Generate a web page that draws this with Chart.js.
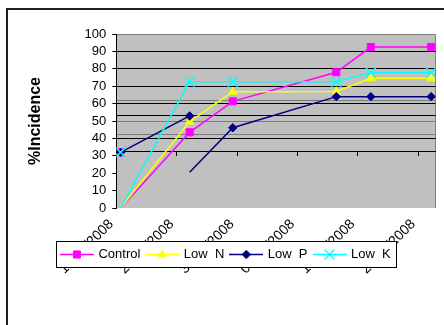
<!DOCTYPE html>
<html>
<head>
<meta charset="utf-8">
<script src="https://cdn.jsdelivr.net/npm/chart.js@4.4.1/dist/chart.umd.min.js"></script>
<style>
  html, body { margin: 0; padding: 0; background: #fff; overflow: hidden; }
  #wrap { position: relative; width: 444px; height: 325px; }
  canvas { display: block; }
  #frame { position: absolute; left: 6px; top: 8px; width: 470px; height: 360px;
           border: 2px solid #1e1e1e; box-sizing: border-box; pointer-events: none; }
</style>
</head>
<body>
<div id="wrap">
  <canvas id="chart" width="444" height="325"></canvas>
  <div id="frame"></div>
</div>
<script>
// Sampling dates, as day offsets from 16/07/2008
const tickDays = [0, 7, 14, 21, 28, 35];
const tickLabels = ['16/07/2008', '23/07/2008', '30/07/2008', '06/08/2008', '13/08/2008', '20/08/2008'];

const seriesNames = ['Control', 'Low  N', 'Low  P', 'Low  K'];
const seriesColors = ['#ff00ff', '#ffff00', '#000080', '#00ffff'];

// First reading of each series (separate leading piece)
const leadDays = [0, 8];
const controlLead = [32, null];
const lowNLead = [32, null];
const lowPLead = [32, 52.9];
const lowKLead = [32, null];

// Main runs of each series
const controlDays = [0, 8, 13, 25, 29, 36];
const controlValues = [0, 43.5, 61.3, 78, 92.5, 92.5];
const lowNDays = [0, 8, 13, 25, 29, 36];
const lowNValues = [0, 49.6, 66.8, 67, 74.5, 74.5];
const lowPDays = [8, 13, 25, 29, 36];
const lowPValues = [20.5, 46.1, 64, 64, 64];
const lowKDays = [0, 8, 13, 25, 29, 36];
const lowKValues = [0, 72.6, 72.6, 72.6, 77.8, 77.8];

// Horizontal rules across the plot
const axisCrossing = 32.2;
const blackGridValues = [90, 80, 70, 60, 53, 40];
const grayGridValues = [61.5, 50, 42.5];

const markers = [
  { style: 'rect', radius: 5, border: 1 },
  { style: 'triangle', radius: 4.7, border: 1 },
  { style: 'rectRot', radius: 4.2, border: 1 },
  { style: 'crossRot', radius: 7, border: 1.5 }
];

function buildSeries(idx, lead, days, values) {
  const m = markers[idx];
  const data = [];
  const radii = [];
  leadDays.forEach((d, i) => {
    data.push({ x: d, y: lead[i] });
    radii.push(lead[i] == null ? 0 : m.radius);
  });
  data.push({ x: days[0], y: null });
  radii.push(0);
  days.forEach((d, i) => {
    data.push({ x: d, y: values[i] });
    radii.push(i === 0 ? 0 : m.radius);
  });
  return {
    label: seriesNames[idx],
    data,
    borderColor: seriesColors[idx],
    backgroundColor: seriesColors[idx],
    borderWidth: 1.5,
    pointStyle: m.style,
    pointRadius: radii,
    pointBorderWidth: m.border,
    pointBorderColor: seriesColors[idx],
    pointBackgroundColor: seriesColors[idx],
    spanGaps: false,
    tension: 0,
    order: seriesNames.length - 1 - idx
  };
}

function legendSample(idx) {
  const m = markers[idx];
  const c = document.createElement('canvas');
  c.width = 34; c.height = 13;
  const g = c.getContext('2d');
  g.strokeStyle = seriesColors[idx];
  g.fillStyle = seriesColors[idx];
  g.lineWidth = 1.5;
  g.beginPath(); g.moveTo(0, 6.5); g.lineTo(34, 6.5); g.stroke();
  g.lineWidth = m.border;
  Chart.helpers.drawPoint(g, { pointStyle: m.style, radius: m.radius, borderWidth: m.border, rotation: 0 }, 17, 6.5);
  return c;
}

const plotBackground = {
  id: 'plotBackground',
  beforeDraw(chart) {
    const { ctx, chartArea: a } = chart;
    ctx.save();
    ctx.fillStyle = '#c0c0c0';
    ctx.fillRect(a.left, a.top, a.right - a.left, a.bottom - a.top);
    ctx.strokeStyle = '#808080';
    ctx.lineWidth = 1;
    const t = Math.round(a.top) + 0.5, r = Math.round(a.right) - 0.5;
    ctx.beginPath();
    ctx.moveTo(a.left, t); ctx.lineTo(r, t); ctx.lineTo(r, a.bottom);
    ctx.stroke();
    ctx.restore();
  }
};

// Date labels run on under the legend box, so let their clip area reach further down
const labelRoom = {
  id: 'labelRoom',
  afterLayout(chart) {
    const x = chart.scales.x;
    x.bottom = x.top + 80;
  }
};

const legendBox = {
  id: 'legendBox',
  afterDraw(chart) {
    const lg = chart.legend;
    const hb = lg.legendHitBoxes;
    if (!hb || !hb.length) return;
    const last = hb[hb.length - 1];
    const l = Math.round(hb[0].left - 6) + 0.5;
    const r = Math.round(last.left + last.width + 6) - 0.5;
    const t = Math.floor(hb[0].top - 6.5) + 0.5;
    const b = Math.floor(hb[0].top + hb[0].height + 6.5) + 0.5;
    const ctx = chart.ctx;
    ctx.save();
    ctx.fillStyle = '#ffffff';
    ctx.fillRect(l, t, r - l, b - t);
    ctx.strokeStyle = '#000000';
    ctx.lineWidth = 1;
    ctx.strokeRect(l, t, r - l, b - t);
    ctx.restore();
    lg.draw();
  }
};

Chart.defaults.font.family = "'Liberation Sans', Arial, sans-serif";
Chart.defaults.color = '#000';

const dayTicks = s => { s.ticks = tickDays.map(d => ({ value: d - 0.5 })); };
const samples = seriesNames.map((_, i) => legendSample(i));

new Chart(document.getElementById('chart'), {
  type: 'line',
  data: {
    datasets: [
      buildSeries(0, controlLead, controlDays, controlValues),
      buildSeries(1, lowNLead, lowNDays, lowNValues),
      buildSeries(2, lowPLead, lowPDays, lowPValues),
      buildSeries(3, lowKLead, lowKDays, lowKValues)
    ]
  },
  options: {
    responsive: false,
    devicePixelRatio: 1,
    animation: false,
    events: [],
    layout: { padding: { left: 16, right: 7.3, top: 34, bottom: 54 } },
    plugins: {
      tooltip: { enabled: false },
      legend: {
        position: 'bottom',
        labels: {
          usePointStyle: true,
          pointStyleWidth: 30,
          padding: 7,
          font: { size: 13 },
          color: '#000',
          sort: (a, b) => a.datasetIndex - b.datasetIndex,
          generateLabels(chart) {
            const items = Chart.defaults.plugins.legend.labels.generateLabels(chart);
            return items.map(it => Object.assign(it, { pointStyle: samples[it.datasetIndex] }));
          }
        }
      }
    },
    scales: {
      x: {
        type: 'linear',
        min: -0.5,
        max: 36.5,
        afterBuildTicks: dayTicks,
        afterFit: s => { s.height = 33; },
        grid: { display: false, drawTicks: false },
        border: { display: false },
        ticks: {
          autoSkip: false,
          minRotation: 45,
          maxRotation: 45,
          padding: 8,
          labelOffset: -5,
          z: -1,
          font: { size: 14 },
          color: '#000',
          callback: (v, i) => tickLabels[i]
        }
      },
      xLine: {
        type: 'linear',
        min: -0.5,
        max: 36.5,
        position: { y: axisCrossing },
        afterBuildTicks: dayTicks,
        ticks: { display: false },
        grid: { drawOnChartArea: false, drawTicks: true, tickLength: 4, color: '#000' },
        border: { display: true, color: '#000', width: 1 }
      },
      y: {
        type: 'linear',
        position: 'left',
        min: 0,
        max: 100,
        afterFit: s => { s.width = 100.3; },
        ticks: { stepSize: 10, autoSkip: false, padding: 6, font: { size: 13 }, color: '#000' },
        grid: { drawOnChartArea: false, drawTicks: true, tickLength: 4, color: '#000' },
        border: { display: true, color: '#000', width: 1 },
        title: {
          display: true,
          text: '%Incidence',
          font: { size: 16, weight: 'bold' },
          color: '#000',
          padding: { top: 10, bottom: 0 }
        }
      },
      yGridBlack: {
        type: 'linear',
        position: 'left',
        min: 0,
        max: 100,
        afterBuildTicks: s => { s.ticks = blackGridValues.map(v => ({ value: v })); },
        afterFit: s => { s.width = 0; },
        ticks: { display: false },
        grid: { drawTicks: false, color: '#000', lineWidth: 1 },
        border: { display: false }
      },
      yGridGray: {
        type: 'linear',
        position: 'left',
        min: 0,
        max: 100,
        afterBuildTicks: s => { s.ticks = grayGridValues.map(v => ({ value: v })); },
        afterFit: s => { s.width = 0; },
        ticks: { display: false },
        grid: { drawTicks: false, color: '#7a7a7a', lineWidth: 1 },
        border: { display: false }
      }
    }
  },
  plugins: [plotBackground, labelRoom, legendBox]
});
</script>
</body>
</html>
